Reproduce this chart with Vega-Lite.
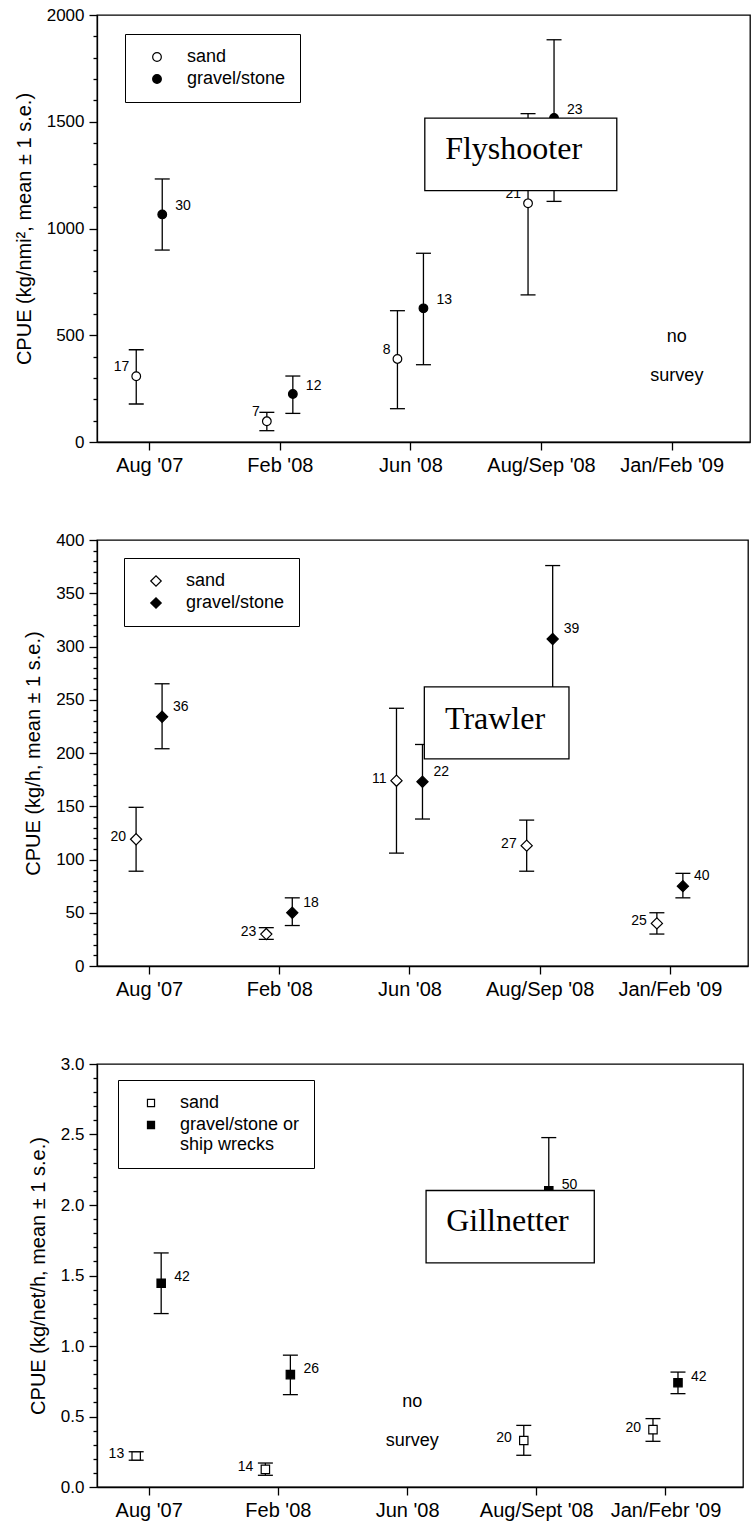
{
  "$schema": "https://vega.github.io/schema/vega-lite/v6.json",
  "background": "white",
  "padding": {"left": 13, "top": 5, "right": 2, "bottom": 5},
  "spacing": 54,
  "config": {
    "font": "Liberation Sans",
    "view": {"stroke": "black", "strokeWidth": 1.3},
    "axis": {
      "domainColor": "black", "domainWidth": 1.3, "tickColor": "black", "tickWidth": 1.3,
      "labelColor": "black", "titleColor": "black", "grid": false,
      "labelFont": "Liberation Sans", "titleFont": "Liberation Sans", "titleFontWeight": "normal",
      "labelOverlap": false, "labelFlush": false
    },
    "legend": {
      "labelFont": "Liberation Sans", "labelColor": "black", "labelFontSize": 18,
      "strokeColor": "black", "fillColor": "white", "padding": 14, "rowPadding": 4,
      "symbolStrokeColor": "black", "symbolStrokeWidth": 1.2
    }
  },
  "datasets": {
    "flyshooter": [
      {"period": 1, "substrate": "sand", "mean": 308, "lo": 178, "hi": 432, "n": 17},
      {"period": 1, "substrate": "gravel/stone", "mean": 1066, "lo": 899, "hi": 1232, "n": 30},
      {"period": 2, "substrate": "sand", "mean": 97, "lo": 53, "hi": 139, "n": 7},
      {"period": 2, "substrate": "gravel/stone", "mean": 225, "lo": 134, "hi": 309, "n": 12},
      {"period": 3, "substrate": "sand", "mean": 389, "lo": 156, "hi": 615, "n": 8},
      {"period": 3, "substrate": "gravel/stone", "mean": 626, "lo": 362, "hi": 884, "n": 13},
      {"period": 4, "substrate": "sand", "mean": 1118, "lo": 689, "hi": 1538, "n": 21},
      {"period": 4, "substrate": "gravel/stone", "mean": 1518, "lo": 1127, "hi": 1884, "n": 23}
    ],
    "trawler": [
      {"period": 1, "substrate": "sand", "mean": 119, "lo": 89, "hi": 149, "n": 20},
      {"period": 1, "substrate": "gravel/stone", "mean": 234, "lo": 204, "hi": 265, "n": 36},
      {"period": 2, "substrate": "sand", "mean": 30, "lo": 25, "hi": 36, "n": 23},
      {"period": 2, "substrate": "gravel/stone", "mean": 50, "lo": 38, "hi": 64, "n": 18},
      {"period": 3, "substrate": "sand", "mean": 174, "lo": 106, "hi": 242, "n": 11},
      {"period": 3, "substrate": "gravel/stone", "mean": 173, "lo": 138, "hi": 208, "n": 22},
      {"period": 4, "substrate": "sand", "mean": 113, "lo": 89, "hi": 137, "n": 27},
      {"period": 4, "substrate": "gravel/stone", "mean": 307, "lo": 239, "hi": 376, "n": 39},
      {"period": 5, "substrate": "sand", "mean": 40, "lo": 30, "hi": 50, "n": 25},
      {"period": 5, "substrate": "gravel/stone", "mean": 75, "lo": 64, "hi": 87, "n": 40}
    ],
    "gillnetter": [
      {"period": 1, "substrate": "sand", "mean": 0.22, "lo": 0.19, "hi": 0.25, "n": 13},
      {"period": 1, "substrate": "gravel/stone or ship wrecks", "mean": 1.445, "lo": 1.23, "hi": 1.66, "n": 42},
      {"period": 2, "substrate": "sand", "mean": 0.125, "lo": 0.083, "hi": 0.17, "n": 14},
      {"period": 2, "substrate": "gravel/stone or ship wrecks", "mean": 0.797, "lo": 0.655, "hi": 0.935, "n": 26},
      {"period": 4, "substrate": "sand", "mean": 0.33, "lo": 0.225, "hi": 0.437, "n": 20},
      {"period": 4, "substrate": "gravel/stone or ship wrecks", "mean": 2.1, "lo": 1.72, "hi": 2.478, "n": 50},
      {"period": 5, "substrate": "sand", "mean": 0.407, "lo": 0.324, "hi": 0.485, "n": 20},
      {"period": 5, "substrate": "gravel/stone or ship wrecks", "mean": 0.74, "lo": 0.662, "hi": 0.815, "n": 42}
    ]
  },
  "resolve": {
    "scale": {"x": "independent", "y": "independent", "fill": "independent"},
    "axis": {"x": "independent", "y": "independent"},
    "legend": {"fill": "independent"}
  },
  "vconcat": [
    {
      "width": 653, "height": 427,
      "layer": [
        {
          "data": {"name": "flyshooter"},
          "mark": {"type": "rule", "color": "black", "strokeWidth": 1.3, "xOffset": {"expr": "datum.substrate === 'sand' ? -13 : 13"}},
          "encoding": {
            "x": {"field": "period", "type": "quantitative", "scale": {"domain": [0.6, 5.6]}},
            "y": {"field": "lo", "type": "quantitative", "scale": {"domain": [0, 2000]}},
            "y2": {"field": "hi"}
          }
        },
        {
          "data": {"name": "flyshooter"},
          "mark": {"type": "tick", "orient": "horizontal", "color": "black", "size": 15, "thickness": 1.3, "opacity": 1, "xOffset": {"expr": "datum.substrate === 'sand' ? -13 : 13"}},
          "encoding": {
            "x": {"field": "period", "type": "quantitative", "scale": {"domain": [0.6, 5.6]}},
            "y": {"field": "lo", "type": "quantitative", "scale": {"domain": [0, 2000]}}
          }
        },
        {
          "data": {"name": "flyshooter"},
          "mark": {"type": "tick", "orient": "horizontal", "color": "black", "size": 15, "thickness": 1.3, "opacity": 1, "xOffset": {"expr": "datum.substrate === 'sand' ? -13 : 13"}},
          "encoding": {
            "x": {"field": "period", "type": "quantitative", "scale": {"domain": [0.6, 5.6]}},
            "y": {"field": "hi", "type": "quantitative", "scale": {"domain": [0, 2000]}}
          }
        },
        {
          "data": {"name": "flyshooter"},
          "mark": {"type": "point", "shape": "circle", "filled": true, "size": 75, "stroke": "black", "strokeWidth": 1.2, "opacity": 1, "xOffset": {"expr": "datum.substrate === 'sand' ? -13 : 13"}},
          "encoding": {
            "x": {
              "field": "period", "type": "quantitative", "scale": {"domain": [0.6, 5.6]},
              "axis": {"values": [1, 2, 3, 4, 5], "tickCount": 5, "title": null, "tickSize": 8, "labelFontSize": 20, "labelPadding": 5, "labelOverlap": false,
                "labelExpr": "[\"\", \"Aug '07\", \"Feb '08\", \"Jun '08\", \"Aug/Sep '08\", \"Jan/Feb '09\"][datum.value]"}
            },
            "y": {
              "field": "mean", "type": "quantitative", "scale": {"domain": [0, 2000]},
              "axis": {
                "title": "CPUE (kg/nmi², mean ± 1 s.e.)", "titleFontSize": 20, "titlePadding": 12,
                "values": [0, 100, 200, 300, 400, 500, 600, 700, 800, 900, 1000, 1100, 1200, 1300, 1400, 1500, 1600, 1700, 1800, 1900, 2000],
                "tickCount": 21,
                "format": "d", "labelPadding": 5, "labelOverlap": false,
                "labelExpr": "datum.value % 500 === 0 ? datum.label : ''",
                "labelFontSize": {"condition": {"test": "datum.value % 500 === 0", "value": 17}, "value": 0},
                "tickSize": {"condition": {"test": "datum.value % 500 === 0", "value": 8}, "value": 4}
              }
            },
            "fill": {
              "field": "substrate", "type": "nominal",
              "scale": {"domain": ["sand", "gravel/stone"], "range": ["white", "black"]},
              "legend": {"title": null, "orient": "none", "legendX": 28, "legendY": 19, "symbolType": "circle", "symbolSize": 75, "symbolOffset": 9, "labelOffset": 21}
            }
          }
        },
        {
          "data": {"name": "flyshooter"},
          "transform": [{"filter": "datum.substrate === 'sand'"}],
          "mark": {"type": "text", "align": "right", "baseline": "middle", "xOffset": -13, "dx": -7, "dy": -9, "fontSize": 14, "color": "black"},
          "encoding": {
            "x": {"field": "period", "type": "quantitative", "scale": {"domain": [0.6, 5.6]}},
            "y": {"field": "mean", "type": "quantitative", "scale": {"domain": [0, 2000]}},
            "text": {"field": "n"}
          }
        },
        {
          "data": {"name": "flyshooter"},
          "transform": [{"filter": "datum.substrate !== 'sand'"}],
          "mark": {"type": "text", "align": "left", "baseline": "middle", "xOffset": 13, "dx": 13, "dy": -8, "fontSize": 14, "color": "black"},
          "encoding": {
            "x": {"field": "period", "type": "quantitative", "scale": {"domain": [0.6, 5.6]}},
            "y": {"field": "mean", "type": "quantitative", "scale": {"domain": [0, 2000]}},
            "text": {"field": "n"}
          }
        },
        {
          "data": {"values": [{}]},
          "mark": {"type": "rect", "fill": "white", "stroke": "black", "strokeWidth": 1.3},
          "encoding": {
            "x": {"datum": 3.11, "type": "quantitative", "scale": {"domain": [0.6, 5.6]}},
            "x2": {"datum": 4.58},
            "y": {"datum": 1517, "type": "quantitative", "scale": {"domain": [0, 2000]}},
            "y2": {"datum": 1177}
          }
        },
        {
          "data": {"values": [{}]},
          "mark": {"type": "text", "text": "Flyshooter", "font": "Liberation Serif", "fontSize": 32, "align": "center", "baseline": "alphabetic", "color": "black"},
          "encoding": {
            "x": {"datum": 3.79, "type": "quantitative", "scale": {"domain": [0.6, 5.6]}},
            "y": {"datum": 1325, "type": "quantitative", "scale": {"domain": [0, 2000]}}
          }
        },
        {
          "data": {"values": [{}]},
          "mark": {"type": "text", "text": "no", "fontSize": 18, "align": "center", "baseline": "middle", "color": "black"},
          "encoding": {
            "x": {"datum": 5.04, "type": "quantitative", "scale": {"domain": [0.6, 5.6]}},
            "y": {"datum": 493, "type": "quantitative", "scale": {"domain": [0, 2000]}}
          }
        },
        {
          "data": {"values": [{}]},
          "mark": {"type": "text", "text": "survey", "fontSize": 18, "align": "center", "baseline": "middle", "color": "black"},
          "encoding": {
            "x": {"datum": 5.04, "type": "quantitative", "scale": {"domain": [0.6, 5.6]}},
            "y": {"datum": 311, "type": "quantitative", "scale": {"domain": [0, 2000]}}
          }
        }
      ]
    },
    {
      "width": 651, "height": 426,
      "layer": [
        {
          "data": {"name": "trawler"},
          "mark": {"type": "rule", "color": "black", "strokeWidth": 1.3, "xOffset": {"expr": "datum.substrate === 'sand' ? -13 : 13"}},
          "encoding": {
            "x": {"field": "period", "type": "quantitative", "scale": {"domain": [0.6, 5.6]}},
            "y": {"field": "lo", "type": "quantitative", "scale": {"domain": [0, 400]}},
            "y2": {"field": "hi"}
          }
        },
        {
          "data": {"name": "trawler"},
          "mark": {"type": "tick", "orient": "horizontal", "color": "black", "size": 15, "thickness": 1.3, "opacity": 1, "xOffset": {"expr": "datum.substrate === 'sand' ? -13 : 13"}},
          "encoding": {
            "x": {"field": "period", "type": "quantitative", "scale": {"domain": [0.6, 5.6]}},
            "y": {"field": "lo", "type": "quantitative", "scale": {"domain": [0, 400]}}
          }
        },
        {
          "data": {"name": "trawler"},
          "mark": {"type": "tick", "orient": "horizontal", "color": "black", "size": 15, "thickness": 1.3, "opacity": 1, "xOffset": {"expr": "datum.substrate === 'sand' ? -13 : 13"}},
          "encoding": {
            "x": {"field": "period", "type": "quantitative", "scale": {"domain": [0.6, 5.6]}},
            "y": {"field": "hi", "type": "quantitative", "scale": {"domain": [0, 400]}}
          }
        },
        {
          "data": {"name": "trawler"},
          "mark": {"type": "point", "shape": "diamond", "filled": true, "size": 125, "stroke": "black", "strokeWidth": 1.2, "opacity": 1, "xOffset": {"expr": "datum.substrate === 'sand' ? -13 : 13"}},
          "encoding": {
            "x": {
              "field": "period", "type": "quantitative", "scale": {"domain": [0.6, 5.6]},
              "axis": {"values": [1, 2, 3, 4, 5], "tickCount": 5, "title": null, "tickSize": 8, "labelFontSize": 20, "labelPadding": 5, "labelOverlap": false,
                "labelExpr": "[\"\", \"Aug '07\", \"Feb '08\", \"Jun '08\", \"Aug/Sep '08\", \"Jan/Feb '09\"][datum.value]"}
            },
            "y": {
              "field": "mean", "type": "quantitative", "scale": {"domain": [0, 400]},
              "axis": {
                "title": "CPUE (kg/h, mean ± 1 s.e.)", "titleFontSize": 20, "titlePadding": 12,
                "values": [0, 10, 20, 30, 40, 50, 60, 70, 80, 90, 100, 110, 120, 130, 140, 150, 160, 170, 180, 190, 200, 210, 220, 230, 240, 250, 260, 270, 280, 290, 300, 310, 320, 330, 340, 350, 360, 370, 380, 390, 400],
                "tickCount": 41,
                "format": "d", "labelPadding": 5, "labelOverlap": false,
                "labelExpr": "datum.value % 50 === 0 ? datum.label : ''",
                "labelFontSize": {"condition": {"test": "datum.value % 50 === 0", "value": 17}, "value": 0},
                "tickSize": {"condition": {"test": "datum.value % 50 === 0", "value": 8}, "value": 4}
              }
            },
            "fill": {
              "field": "substrate", "type": "nominal",
              "scale": {"domain": ["sand", "gravel/stone"], "range": ["white", "black"]},
              "legend": {"title": null, "orient": "none", "legendX": 27, "legendY": 18, "symbolType": "diamond", "symbolSize": 110, "symbolOffset": 9, "labelOffset": 21}
            }
          }
        },
        {
          "data": {"name": "trawler"},
          "transform": [{"filter": "datum.substrate === 'sand'"}],
          "mark": {"type": "text", "align": "right", "baseline": "middle", "xOffset": -13, "dx": -10, "dy": -2, "fontSize": 14, "color": "black"},
          "encoding": {
            "x": {"field": "period", "type": "quantitative", "scale": {"domain": [0.6, 5.6]}},
            "y": {"field": "mean", "type": "quantitative", "scale": {"domain": [0, 400]}},
            "text": {"field": "n"}
          }
        },
        {
          "data": {"name": "trawler"},
          "transform": [{"filter": "datum.substrate !== 'sand'"}],
          "mark": {"type": "text", "align": "left", "baseline": "middle", "xOffset": 13, "dx": 11, "dy": -10, "fontSize": 14, "color": "black"},
          "encoding": {
            "x": {"field": "period", "type": "quantitative", "scale": {"domain": [0.6, 5.6]}},
            "y": {"field": "mean", "type": "quantitative", "scale": {"domain": [0, 400]}},
            "text": {"field": "n"}
          }
        },
        {
          "data": {"values": [{}]},
          "mark": {"type": "rect", "fill": "white", "stroke": "black", "strokeWidth": 1.3},
          "encoding": {
            "x": {"datum": 3.114, "type": "quantitative", "scale": {"domain": [0.6, 5.6]}},
            "x2": {"datum": 4.225},
            "y": {"datum": 262, "type": "quantitative", "scale": {"domain": [0, 400]}},
            "y2": {"datum": 194.5}
          }
        },
        {
          "data": {"values": [{}]},
          "mark": {"type": "text", "text": "Trawler", "font": "Liberation Serif", "fontSize": 32, "align": "center", "baseline": "alphabetic", "color": "black"},
          "encoding": {
            "x": {"datum": 3.657, "type": "quantitative", "scale": {"domain": [0.6, 5.6]}},
            "y": {"datum": 223, "type": "quantitative", "scale": {"domain": [0, 400]}}
          }
        }
      ]
    },
    {
      "width": 646, "height": 423,
      "layer": [
        {
          "data": {"name": "gillnetter"},
          "mark": {"type": "rule", "color": "black", "strokeWidth": 1.3, "xOffset": {"expr": "datum.substrate === 'sand' ? -12.5 : 12.5"}},
          "encoding": {
            "x": {"field": "period", "type": "quantitative", "scale": {"domain": [0.6, 5.6]}},
            "y": {"field": "lo", "type": "quantitative", "scale": {"domain": [0, 3]}},
            "y2": {"field": "hi"}
          }
        },
        {
          "data": {"name": "gillnetter"},
          "mark": {"type": "tick", "orient": "horizontal", "color": "black", "size": 15, "thickness": 1.3, "opacity": 1, "xOffset": {"expr": "datum.substrate === 'sand' ? -12.5 : 12.5"}},
          "encoding": {
            "x": {"field": "period", "type": "quantitative", "scale": {"domain": [0.6, 5.6]}},
            "y": {"field": "lo", "type": "quantitative", "scale": {"domain": [0, 3]}}
          }
        },
        {
          "data": {"name": "gillnetter"},
          "mark": {"type": "tick", "orient": "horizontal", "color": "black", "size": 15, "thickness": 1.3, "opacity": 1, "xOffset": {"expr": "datum.substrate === 'sand' ? -12.5 : 12.5"}},
          "encoding": {
            "x": {"field": "period", "type": "quantitative", "scale": {"domain": [0.6, 5.6]}},
            "y": {"field": "hi", "type": "quantitative", "scale": {"domain": [0, 3]}}
          }
        },
        {
          "data": {"name": "gillnetter"},
          "mark": {"type": "point", "shape": "square", "filled": true, "size": 70, "stroke": "black", "strokeWidth": 1.2, "opacity": 1, "xOffset": {"expr": "datum.substrate === 'sand' ? -12.5 : 12.5"}},
          "encoding": {
            "x": {
              "field": "period", "type": "quantitative", "scale": {"domain": [0.6, 5.6]},
              "axis": {"values": [1, 2, 3, 4, 5], "tickCount": 5, "title": null, "tickSize": 8, "labelFontSize": 20, "labelPadding": 5, "labelOverlap": false,
                "labelExpr": "[\"\", \"Aug '07\", \"Feb '08\", \"Jun '08\", \"Aug/Sept '08\", \"Jan/Febr '09\"][datum.value]"}
            },
            "y": {
              "field": "mean", "type": "quantitative", "scale": {"domain": [0, 3]},
              "axis": {
                "title": "CPUE (kg/net/h, mean ± 1 s.e.)", "titleFontSize": 20, "titlePadding": 12,
                "values": [0, 0.1, 0.2, 0.3, 0.4, 0.5, 0.6, 0.7, 0.8, 0.9, 1, 1.1, 1.2, 1.3, 1.4, 1.5, 1.6, 1.7, 1.8, 1.9, 2, 2.1, 2.2, 2.3, 2.4, 2.5, 2.6, 2.7, 2.8, 2.9, 3],
                "tickCount": 31,
                "format": ".1f", "labelPadding": 5, "labelOverlap": false,
                "labelExpr": "round(datum.value * 10) % 5 === 0 ? datum.label : ''",
                "labelFontSize": {"condition": {"test": "round(datum.value * 10) % 5 === 0", "value": 17}, "value": 0},
                "tickSize": {"condition": {"test": "round(datum.value * 10) % 5 === 0", "value": 8}, "value": 4}
              }
            },
            "fill": {
              "field": "substrate", "type": "nominal",
              "scale": {"domain": ["sand", "gravel/stone or ship wrecks"], "range": ["white", "black"]},
              "legend": {"title": null, "orient": "none", "legendX": 21, "legendY": 16, "symbolType": "square", "symbolSize": 50, "symbolOffset": 10, "labelOffset": 20,
                "labelExpr": "datum.label === 'gravel/stone or ship wrecks' ? ['gravel/stone or', 'ship wrecks'] : datum.label"}
            }
          }
        },
        {
          "data": {"name": "gillnetter"},
          "transform": [{"filter": "datum.substrate === 'sand'"}],
          "mark": {"type": "text", "align": "right", "baseline": "middle", "xOffset": -12.5, "dx": -12, "dy": -2, "fontSize": 14, "color": "black"},
          "encoding": {
            "x": {"field": "period", "type": "quantitative", "scale": {"domain": [0.6, 5.6]}},
            "y": {"field": "mean", "type": "quantitative", "scale": {"domain": [0, 3]}},
            "text": {"field": "n"}
          }
        },
        {
          "data": {"name": "gillnetter"},
          "transform": [{"filter": "datum.substrate !== 'sand'"}],
          "mark": {"type": "text", "align": "left", "baseline": "middle", "xOffset": 12.5, "dx": 13, "dy": -6, "fontSize": 14, "color": "black"},
          "encoding": {
            "x": {"field": "period", "type": "quantitative", "scale": {"domain": [0.6, 5.6]}},
            "y": {"field": "mean", "type": "quantitative", "scale": {"domain": [0, 3]}},
            "text": {"field": "n"}
          }
        },
        {
          "data": {"values": [{}]},
          "mark": {"type": "rect", "fill": "white", "stroke": "black", "strokeWidth": 1.3},
          "encoding": {
            "x": {"datum": 3.147, "type": "quantitative", "scale": {"domain": [0.6, 5.6]}},
            "x2": {"datum": 4.449},
            "y": {"datum": 2.103, "type": "quantitative", "scale": {"domain": [0, 3]}},
            "y2": {"datum": 1.59}
          }
        },
        {
          "data": {"values": [{}]},
          "mark": {"type": "text", "text": "Gillnetter", "font": "Liberation Serif", "fontSize": 32, "align": "center", "baseline": "alphabetic", "color": "black"},
          "encoding": {
            "x": {"datum": 3.777, "type": "quantitative", "scale": {"domain": [0.6, 5.6]}},
            "y": {"datum": 1.814, "type": "quantitative", "scale": {"domain": [0, 3]}}
          }
        },
        {
          "data": {"values": [{}]},
          "mark": {"type": "text", "text": "no", "fontSize": 18, "align": "center", "baseline": "middle", "color": "black"},
          "encoding": {
            "x": {"datum": 3.04, "type": "quantitative", "scale": {"domain": [0.6, 5.6]}},
            "y": {"datum": 0.602, "type": "quantitative", "scale": {"domain": [0, 3]}}
          }
        },
        {
          "data": {"values": [{}]},
          "mark": {"type": "text", "text": "survey", "fontSize": 18, "align": "center", "baseline": "middle", "color": "black"},
          "encoding": {
            "x": {"datum": 3.04, "type": "quantitative", "scale": {"domain": [0.6, 5.6]}},
            "y": {"datum": 0.326, "type": "quantitative", "scale": {"domain": [0, 3]}}
          }
        }
      ]
    }
  ]
}
